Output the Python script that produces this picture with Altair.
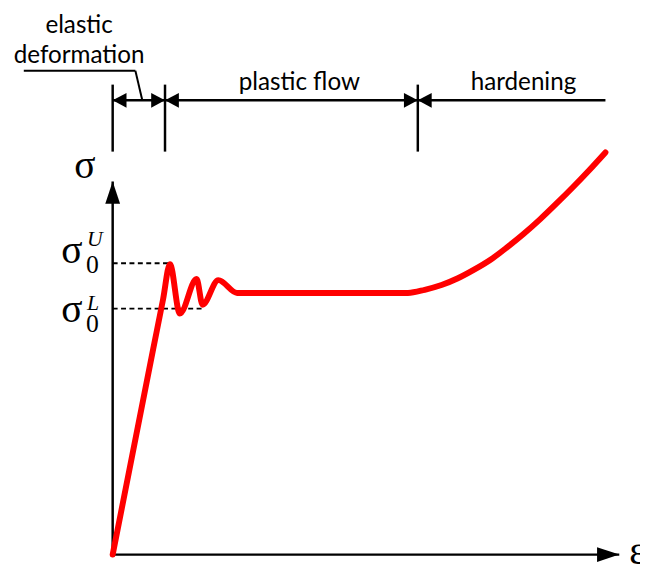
import altair as alt
import pandas as pd

# ---- stress-strain curve (strain eps, stress sigma, arbitrary units)
strain = [0, 4.1, 5.1, 5.8, 6.8, 8.5, 9.1, 10.7, 12.6, 29.9,
          31.6, 33.3, 34.9, 36.6, 38.3, 39.9, 41.6, 43.3, 44.9, 46.6, 48.3, 49.9]
stress = [0, 78.5, 97.5, 111.0, 92.1, 105.3, 95.5, 104.9, 100.0, 100.0,
          101.2, 103.0, 105.5, 108.9, 112.8, 117.3, 122.5, 128.2, 134.0, 140.4, 147.1, 153.7]

# upper / lower yield stress (dashed guides) and where the guides end
yield_names = ["U", "L"]
yield_stress = [111.3, 94.0]
yield_guide_end = [5.6, 9.1]

# axes extents
axis_x_end = 51.3
axis_y_end = 142.6

# regime boundaries along the strain axis
region_bounds = [0, 5.3, 30.9]
region_end = 49.9
region_label_x = [-3.4, 18.9, 41.6]
bracket_level = 173.6
bracket_tick = [154.0, 179.6]
label_level = 177.4

# leader line for the "elastic deformation" label
leader_e = [-9.0, 2.3, 3.0]
leader_s = [184.9, 184.9, 173.6]

X_DOMAIN = [-10.6, 52.6]
Y_DOMAIN = [-2.26, 207.55]

xs = alt.Scale(domain=X_DOMAIN, nice=False, zero=False)
ys = alt.Scale(domain=Y_DOMAIN, nice=False, zero=False)


def ex(f="e"):
    return alt.X(f"{f}:Q", scale=xs, axis=None)


def ey(f="s"):
    return alt.Y(f"{f}:Q", scale=ys, axis=None)


# ---- tables
curve = pd.DataFrame({"e": strain, "s": stress, "o": range(len(strain))})

dashed = pd.DataFrame({"e": [0, 0], "e2": yield_guide_end, "s": yield_stress, "s2": yield_stress})

axes_df = pd.DataFrame({"e": [0, 0], "e2": [0, axis_x_end], "s": [0, 0], "s2": [axis_y_end, 0]})

vticks = pd.DataFrame({"e": region_bounds, "e2": region_bounds,
                       "s": [bracket_tick[0]] * 3, "s2": [bracket_tick[1]] * 3})
hline = pd.DataFrame({"e": [region_bounds[0]], "e2": [region_end],
                      "s": [bracket_level], "s2": [bracket_level]})
leader = pd.DataFrame({"e": leader_e[:-1], "e2": leader_e[1:], "s": leader_s[:-1], "s2": leader_s[1:]})

arrow_shapes = {
    "left": "M0,0L1.87,-1L1.87,1Z",
    "right": "M0,0L-1.87,-1L-1.87,1Z",
    "up": "M0,0L-1,3L1,3Z",
    "axisright": "M0,0L-3,-1L-3,1Z",
}
arrows = pd.DataFrame({
    "e": [region_bounds[0], region_bounds[1], region_bounds[1], region_bounds[2], region_bounds[2], 0, axis_x_end],
    "s": [bracket_level] * 5 + [axis_y_end, 0],
    "d": ["left", "right", "left", "right", "left", "up", "axisright"],
})

sans_labels = pd.DataFrame({
    "e": [region_label_x[0], region_label_x[0], region_label_x[1], region_label_x[2]],
    "s": [199.2, 187.9, label_level, label_level],
    "t": ["elastic", "deformation", "plastic flow", "hardening"],
})

sig_big = pd.DataFrame({"e": [-3.9, -5.2, -5.2], "s": [143.8, 111.3, 88.7], "t": ["σ", "σ", "σ"]})
sig_sub = pd.DataFrame({"e": [-2.7, -2.7], "s": [107.5, 84.9], "t": ["0", "0"]})
sig_sup = pd.DataFrame({"e": [-2.6, -2.6], "s": [118.1, 93.6], "t": yield_names})
eps_lab = pd.DataFrame({"e": [52.3], "s": [-3.4], "t": ["ε"]})

# ---- layers
l_axes = alt.Chart(axes_df).mark_rule(color="black", strokeWidth=2.5).encode(
    x=ex(), x2="e2", y=ey(), y2="s2")
l_dash = alt.Chart(dashed).mark_rule(color="black", strokeWidth=2, strokeDash=[5, 3.5]).encode(
    x=ex(), x2="e2", y=ey(), y2="s2")
l_vt = alt.Chart(vticks).mark_rule(color="black", strokeWidth=2.5).encode(
    x=ex(), x2="e2", y=ey(), y2="s2")
l_h = alt.Chart(hline).mark_rule(color="black", strokeWidth=2.5).encode(
    x=ex(), x2="e2", y=ey(), y2="s2")
l_lead = alt.Chart(leader).mark_rule(color="black", strokeWidth=2).encode(
    x=ex(), x2="e2", y=ey(), y2="s2")
l_curve = alt.Chart(curve).mark_line(color="#ff0000", strokeWidth=6, interpolate="monotone",
                                     strokeCap="round", strokeJoin="round").encode(
    x=ex(), y=ey(), order="o:Q")
l_arr = alt.Chart(arrows).mark_point(filled=True, color="black", opacity=1, size=225, strokeWidth=0).encode(
    x=ex(), y=ey(),
    shape=alt.Shape("d:N", scale=alt.Scale(domain=list(arrow_shapes.keys()),
                                          range=list(arrow_shapes.values())), legend=None))
l_sans = alt.Chart(sans_labels).mark_text(font="Lato", fontSize=24.5, color="black",
                                           align="center", baseline="alphabetic").encode(
    x=ex(), y=ey(), text="t:N")
l_sig = alt.Chart(sig_big).mark_text(font="Liberation Serif", fontSize=40, color="black",
                                     align="left", baseline="alphabetic").encode(
    x=ex(), y=ey(), text="t:N")
l_sub = alt.Chart(sig_sub).mark_text(font="Liberation Serif", fontSize=26, color="black",
                                     align="left", baseline="alphabetic").encode(
    x=ex(), y=ey(), text="t:N")
l_sup = alt.Chart(sig_sup).mark_text(font="Liberation Serif", fontSize=22, fontStyle="italic",
                                     color="black", align="left", baseline="alphabetic").encode(
    x=ex(), y=ey(), text="t:N")
l_eps = alt.Chart(eps_lab).mark_text(font="Liberation Serif", fontSize=40, color="black",
                                     align="left", baseline="alphabetic").encode(
    x=ex(), y=ey(), text="t:N")

chart = alt.layer(l_axes, l_dash, l_vt, l_h, l_lead, l_curve, l_arr,
                  l_sans, l_sig, l_sub, l_sup, l_eps).properties(
    width=632, height=556,
    autosize=alt.AutoSizeParams(type="none"),
    padding={"left": 0, "top": 0, "right": 8, "bottom": 0},
).configure_view(strokeWidth=0)

chart.save("out.html", embed_options={"renderer": "svg", "actions": False})
